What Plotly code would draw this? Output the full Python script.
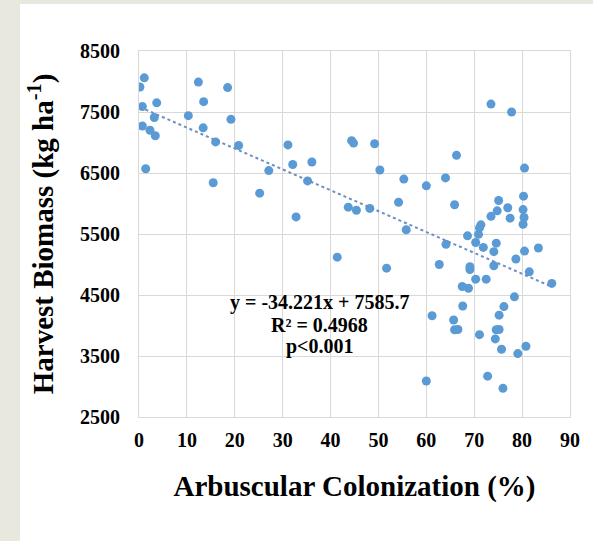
import plotly.graph_objects as go

# Arbuscular colonization (%) and harvest biomass (kg/ha) for each plot
colonization = [
    1.1, 0.2, 0.7, 3.7, 3.2, 0.7, 2.3, 3.4, 1.4, 12.4,
    13.5, 10.3, 13.4, 16.0, 18.5, 19.2, 20.8, 15.5, 27.1, 25.2,
    31.1, 32.1, 36.1, 35.2, 32.8, 44.4, 44.8, 49.2, 50.3, 55.3,
    60.0, 64.0, 66.3, 54.2, 65.9, 43.7, 45.4, 48.2, 55.8, 41.4,
    51.7,
    73.5, 77.8, 80.5, 80.3, 75.1, 74.8, 77.0, 80.2, 73.5, 77.5,
    80.4, 80.2, 71.4, 71.1, 70.9, 68.6, 70.3, 71.9, 74.6, 74.1,
    80.5, 83.4, 64.1, 78.7, 69.1, 69.1, 74.1, 62.7, 81.5, 70.3,
    72.5, 67.5, 68.8, 86.2, 78.4, 67.6, 76.2, 75.2, 61.2, 65.7,
    65.9, 66.6, 71.1, 74.6, 75.2, 74.4, 75.7, 80.8, 79.1, 72.8,
    76.0, 60.0,
]
biomass = [
    8060, 7910, 7590, 7650, 7410, 7270, 7200, 7110, 6570, 7990,
    7670, 7440, 7240, 7010, 7900, 7380, 6950, 6340, 6540, 6170,
    6960, 6640, 6680, 6370, 5780, 7030, 6990, 6980, 6550, 6400,
    6290, 6420, 6790, 6020, 5980, 5940, 5890, 5920, 5570, 5120,
    4940,
    7630, 7500, 6580, 6120, 6050, 5880, 5930, 5900, 5790, 5760,
    5770, 5660, 5650, 5600, 5495, 5470, 5360, 5280, 5350, 5210,
    5220, 5270, 5330, 5090, 4965, 4916, 4980, 5000, 4880, 4760,
    4760, 4640, 4610, 4690, 4470, 4320, 4310, 4170, 4160, 4090,
    3930, 3935, 3850, 3930, 3935, 3780, 3610, 3660, 3540, 3170,
    2970, 3090,
]

# Linear fit reported on the chart
slope = -34.221
intercept = 7585.7
fit_lines = ["y = -34.221x + 7585.7", "R² = 0.4968", "p<0.001"]

x_ticks = list(range(0, 91, 10))
y_ticks = list(range(2500, 8501, 1000))

W, H = 593, 541
ML, MR, MT, MB = 139, 23, 51, 124
plot_w = W - ML - MR
plot_h = H - MT - MB

serif = "Liberation Serif"
grid = "#d9d9d9"

fig = go.Figure()

fig.add_trace(go.Scatter(
    x=colonization, y=biomass, mode="markers",
    marker=dict(color="#5b9bd5", size=9, line=dict(width=0)),
    showlegend=False, hoverinfo="x+y",
))

x_lo, x_hi = min(colonization), max(colonization)
fig.add_trace(go.Scatter(
    x=[x_lo, x_hi], y=[slope * x_lo + intercept, slope * x_hi + intercept],
    mode="lines", line=dict(color="#6a8fc4", width=2, dash="dot"),
    showlegend=False, hoverinfo="skip",
))

# White card over the beige page background
def px_x(p):
    return (p - ML) / plot_w

def px_y(p):
    return (H - MB - p) / plot_h

fig.add_shape(type="rect", xref="paper", yref="paper",
              x0=px_x(20), x1=px_x(W + 5), y0=px_y(H + 5), y1=px_y(4),
              fillcolor="white", line=dict(width=0), layer="below")

# Regression statistics block
for line, yv in zip(fit_lines, [4371, 4011, 3651]):
    fig.add_annotation(x=37.7, y=yv, text=line, showarrow=False,
                       xanchor="center", yanchor="middle",
                       font=dict(family=serif, size=20, color="black", weight="bold"))

axis_common = dict(
    showgrid=True, gridcolor=grid, gridwidth=1,
    showline=True, linecolor=grid, linewidth=1, mirror=True,
    zeroline=False, ticks="",
    tickfont=dict(family=serif, size=20, color="black", weight="bold"),
    automargin=False,
)

fig.update_layout(
    width=W, height=H,
    margin=dict(l=ML, r=MR, t=MT, b=MB),
    paper_bgcolor="#e9e8de",
    plot_bgcolor="white",
    xaxis=dict(
        range=[0, 90], tickvals=x_ticks, ticklabelstandoff=5,
        title=dict(text="Arbuscular Colonization (%)", standoff=25,
                   font=dict(family=serif, size=29, color="black", weight="bold")),
        **axis_common,
    ),
    yaxis=dict(
        range=[2500, 8500], tickvals=y_ticks, ticklabelstandoff=14,
        title=dict(text="Harvest Biomass (kg ha<sup>-1</sup>)", standoff=17,
                   font=dict(family=serif, size=29, color="black", weight="bold")),
        **axis_common,
    ),
)

fig.write_html("out.html")
